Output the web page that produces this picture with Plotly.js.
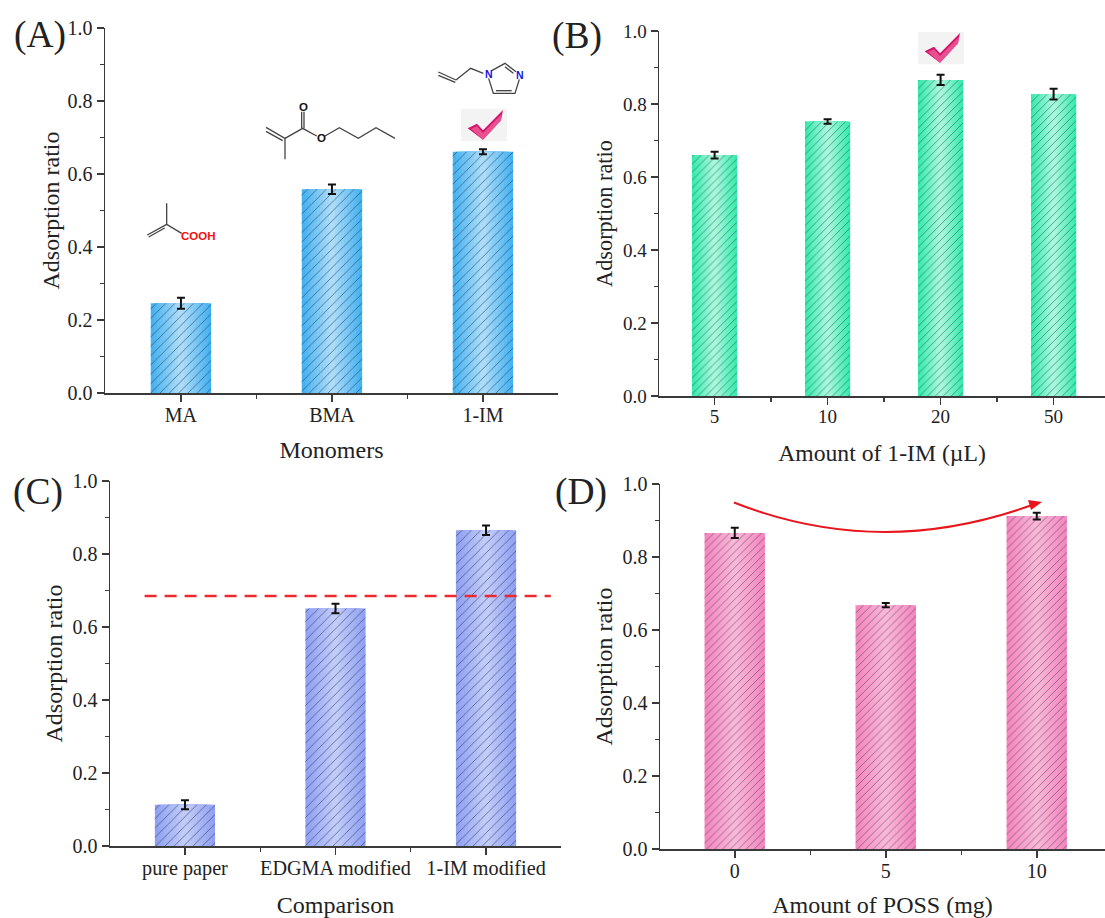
<!DOCTYPE html>
<html><head><meta charset="utf-8"><script src="https://cdn.plot.ly/plotly-3.0.1.min.js"></script>
<style>html,body{margin:0;padding:0;background:#fff;overflow:hidden}</style></head>
<body><div id="chart" style="width:1105px;height:918px"></div>
<script>
// ---- data ----
const yTitle = "Adsorption ratio";
const catsA = ["MA","BMA","1-IM"];
const valsA = [0.246,0.558,0.661];
const errsA = [0.015,0.013,0.007];
const catsB = ["5","10","20","50"];
const valsB = [0.660,0.752,0.866,0.827];
const errsB = [0.009,0.006,0.014,0.015];
const catsC = ["pure paper","EDGMA modified","1-IM modified"];
const valsC = [0.113,0.651,0.865];
const errsC = [0.012,0.013,0.013];
const catsD = ["0","5","10"];
const valsD = [0.866,0.668,0.912];
const errsD = [0.014,0.006,0.009];
const refLineC = 0.685;

const W=1105,H=918;
const px=x=>x/W, py=y=>1-y/H;
// panels: pixel boxes of each plot area and the category-axis range
const panels=[
 {k:"",cats:catsA,vals:valsA,errs:errsA,xT:"Monomers",box:[105,558,28,393],range:[-0.503,2.497],edge:[70,178,242],mid:[172,220,250],hs:6.6,tf:20,xf:20,tt:24,yt:24,so:16,yso:1},
 {k:"2",cats:catsB,vals:valsB,errs:errsB,xT:"Amount of 1-IM (\u00B5L)",box:[659,1105,31,396],range:[-0.492,3.455],edge:[56,236,174],mid:[168,248,220],hs:5.6,tf:19,xf:19,tt:23.7,yt:22.3,so:18,yso:4},
 {k:"3",cats:catsC,vals:valsC,errs:errsC,xT:"Comparison",box:[110,561,481,846],range:[-0.498,2.498],edge:[145,160,243],mid:[194,204,250],hs:6.6,tf:20,xf:20.2,tt:24,yt:24,so:17,yso:3},
 {k:"4",cats:catsD,vals:valsD,errs:errsD,xT:"Amount of POSS (mg)",box:[660,1105,484,849],range:[-0.495,2.452],edge:[246,134,190],mid:[252,182,216],hs:5.6,tf:20,xf:20,tt:24,yt:24,so:24,yso:3}
];
const BARW=0.4, STEPS=10;
const traces=[]; const layout={width:W,height:H,margin:{l:0,r:0,t:0,b:0},paper_bgcolor:"#fff",plot_bgcolor:"rgba(0,0,0,0)",
  barmode:"overlay",showlegend:false,font:{family:"Liberation Serif",color:"#222"},shapes:[],annotations:[]};
const lineCol="#3a3a3a";
panels.forEach(p=>{
  const xs=p.cats.map((_,i)=>i);
  const ax="x"+p.k, ay="y"+p.k;
  // horizontal gradient of each bar: narrower bars layered from edge colour to centre colour
  for(let s=0;s<STEPS;s++){
    const t=s/(STEPS-1);
    const c=p.edge.map((e,i)=>Math.round(e+(p.mid[i]-e)*t));
    traces.push({type:"bar",x:xs,y:p.vals,width:BARW*(1-s/STEPS),xaxis:ax,yaxis:ay,hoverinfo:"skip",
      marker:{color:`rgb(${c})`,line:{width:0}}});
  }
  traces.push({type:"bar",x:xs,y:p.vals,width:BARW,xaxis:ax,yaxis:ay,
    marker:{color:"rgba(0,0,0,0)",line:{width:0},pattern:{shape:"/",size:p.hs,solidity:0.1,fgcolor:"#24404f",fgopacity:0.9,bgcolor:"rgba(0,0,0,0)"}},
    error_y:{type:"data",array:p.errs,visible:true,color:"#111",thickness:2,width:4}});
  const [x0,x1,y0,y1]=p.box;
  const minorX=xs.map(v=>v+0.5);
  layout["xaxis"+p.k]={domain:[px(x0),px(x1)],range:p.range,anchor:ay,tickmode:"array",tickvals:xs,ticktext:p.cats,
    ticks:"outside",ticklen:7,tickwidth:1.5,tickcolor:lineCol,showline:true,linecolor:lineCol,linewidth:1.5,showgrid:false,zeroline:false,
    ticklabelstandoff:-4,
    tickfont:{size:p.xf,family:"Liberation Serif",color:"#222"},
    minor:{tickmode:"array",tickvals:minorX,ticks:"outside",ticklen:4,tickwidth:1.2,tickcolor:lineCol,showgrid:false},
    title:{text:p.xT,font:{size:p.tt,family:"Liberation Serif",color:"#222"},standoff:p.so}};
  layout["yaxis"+p.k]={domain:[py(y1),py(y0)],range:[0,1],anchor:ax,tick0:0,dtick:0.2,tickformat:".1f",
    ticks:"outside",ticklen:7,tickwidth:1.5,tickcolor:lineCol,showline:true,linecolor:lineCol,linewidth:1.5,showgrid:false,zeroline:false,
    tickfont:{size:p.tf,family:"Liberation Serif",color:"#222"},
    minor:{dtick:0.1,ticks:"outside",ticklen:4,tickwidth:1.2,tickcolor:lineCol,showgrid:false},
    title:{text:yTitle,font:{size:p.yt,family:"Liberation Serif",color:"#222"},standoff:p.yso}};
});
// dashed reference line, panel C
traces.push({type:"scatter",mode:"lines",x:[-0.268,2.43],y:[refLineC,refLineC],xaxis:"x3",yaxis:"y3",hoverinfo:"skip",
  line:{color:"#ea2a2f",width:2.4,dash:"12px,8px"}});

// ---- decorations, pixel positions on the page ----
const pth=pts=>pts.map((q,i)=>(i?"L":"M")+px(q[0]).toFixed(5)+" "+py(q[1]).toFixed(5)).join(" ");
const line=(pts,color,w)=>layout.shapes.push({type:"path",xref:"paper",yref:"paper",path:pth(pts),line:{color:color||"#444",width:w||1.3},layer:"above"});
const fill=(pts,color)=>layout.shapes.push({type:"path",xref:"paper",yref:"paper",path:pth(pts)+" Z",fillcolor:color,line:{width:0},layer:"above"});
const note=(text,x,y,size,color,bold,family)=>layout.annotations.push({text:bold?`<b>${text}</b>`:text,xref:"paper",yref:"paper",x:px(x),y:py(y),showarrow:false,
  xanchor:"center",yanchor:"middle",font:{size,color:color||"#222",family:family||"Liberation Serif"}});
const zoomed=(ox,oy,pts)=>pts.map(q=>[ox+q[0]/3,oy+q[1]/3]);

// panel letters
note("(A)",40,35,37.5); note("(B)",577,36,37.5); note("(C)",38,492,37.5); note("(D)",581,492,37.5);

// MA molecule
const ma=(pts)=>zoomed(130,190,pts);
line(ma([[110,40],[110,103],[155,130]]));
line(ma([[110,103],[52,135]])); line(ma([[104,114],[56,141]]));
note("COOH",198,236,11.5,"#f01010",true,"Liberation Sans");
// BMA molecule
const bm=(pts)=>zoomed(260,50,pts);
line(bm([[18,232],[75,265],[75,328]])); line(bm([[18,244],[68,272]]));
line(bm([[75,265],[128,235],[170,258]]));
line(bm([[125,235],[125,185]])); line(bm([[132,235],[132,185]]));
line(bm([[195,258],[238,233],[295,265],[348,233],[405,265]]));
note("O",303,106.5,11.5,"#111",true,"Liberation Sans");
note("O",321,138,11.5,"#111",true,"Liberation Sans");
// 1-IM molecule
line(bm([[535,66],[588,90]])); line(bm([[535,76],[586,97]]));
line(bm([[588,90],[632,55],[670,70]]));
line(bm([[695,62],[735,40],[768,65]])); line(bm([[735,50],[760,70]]));
line(bm([[778,88],[765,130],[700,130],[686,85]])); line(bm([[755,122],[708,122]]));
note("N",488.5,74,10.5,"#1414e6",true,"Liberation Sans");
note("N",520,75,10.5,"#1414e6",true,"Liberation Sans");
// check marks
const check=(ox,oy)=>{
  const z=pts=>pts.map(q=>[ox+q[0]/3,oy+q[1]/3]);
  fill(z([[0,0],[138,0],[138,97],[0,97]]),"#f3f3f3");
  fill(z([[20,58],[48,44],[66,64],[126,3],[120,34],[66,92]]),"#d3176e");
  fill(z([[66,72],[122,16],[120,34],[66,92],[30,60],[48,52]]),"#e8508f");
};
check(461,109); check(918,32);
// curved arrow, panel D
layout.shapes.push({type:"path",xref:"paper",yref:"paper",layer:"above",
  path:`M ${px(734)} ${py(502.5)} Q ${px(880)} ${py(560)} ${px(1032)} ${py(505)}`,line:{color:"#e8161c",width:2}});
fill([[1042,502],[1028,500],[1031,510]],"#e8161c");

Plotly.newPlot("chart",traces,layout,{displayModeBar:false,staticPlot:true});
</script></body></html>
